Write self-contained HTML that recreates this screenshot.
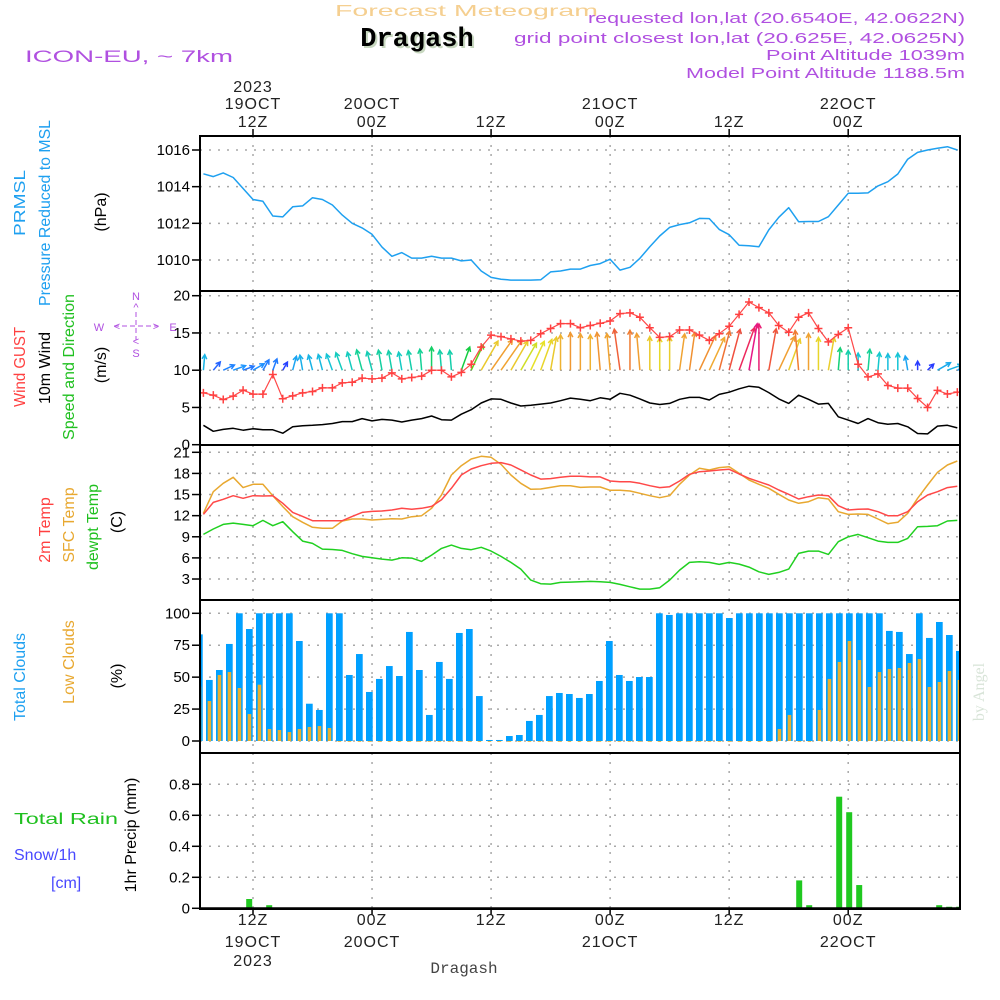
<!DOCTYPE html>
<html><head><meta charset="utf-8">
<style>
html,body{margin:0;padding:0;background:#fff;}
svg{display:block;font-family:"Liberation Sans",sans-serif;}
</style></head>
<body>
<svg id="chart" width="1000" height="1000" viewBox="0 0 1000 1000" xmlns="http://www.w3.org/2000/svg">
<rect x="0" y="0" width="1000" height="1000" fill="#fff"/>
<g id="grid"></g>
<g id="series"></g>
<g id="frames"></g>
<g id="labels">
  <text x="335" y="16" fill="#f5cf90" font-size="16" textLength="263" lengthAdjust="spacingAndGlyphs">Forecast Meteogram</text>
  <text x="419" y="48" text-anchor="middle" fill="#c8d8c0" font-family="Liberation Mono, monospace" font-weight="bold" font-size="27">Dragash</text>
  <text x="417" y="46" text-anchor="middle" fill="#000" font-family="Liberation Mono, monospace" font-weight="bold" font-size="27">Dragash</text>
  <text x="588" y="23" fill="#b050e0" font-size="15" textLength="377" lengthAdjust="spacingAndGlyphs">requested lon,lat (20.6540E, 42.0622N)</text>
  <text x="514" y="43" fill="#b050e0" font-size="15" textLength="451" lengthAdjust="spacingAndGlyphs">grid point closest lon,lat (20.625E, 42.0625N)</text>
  <text x="766" y="60" fill="#b050e0" font-size="15" textLength="199" lengthAdjust="spacingAndGlyphs">Point Altitude 1039m</text>
  <text x="686" y="78" fill="#b050e0" font-size="15" textLength="279" lengthAdjust="spacingAndGlyphs">Model Point Altitude 1188.5m</text>
  <text x="25" y="62" fill="#b050e0" font-size="17" textLength="208" lengthAdjust="spacingAndGlyphs">ICON-EU, ~ 7km</text>

  <text transform="rotate(-90 25 203)" x="25" y="203" text-anchor="middle" fill="#1ea0f0" font-size="16" textLength="66" lengthAdjust="spacingAndGlyphs">PRMSL</text>
  <text transform="rotate(-90 50 213)" x="50" y="213" text-anchor="middle" fill="#1ea0f0" font-size="16" textLength="186" lengthAdjust="spacingAndGlyphs">Pressure Reduced to MSL</text>
  <text transform="rotate(-90 106 212)" x="106" y="212" text-anchor="middle" fill="#000" font-size="16">(hPa)</text>

  <text transform="rotate(-90 25 367)" x="25" y="367" text-anchor="middle" fill="#ff4040" font-size="16" textLength="80" lengthAdjust="spacingAndGlyphs">Wind GUST</text>
  <text transform="rotate(-90 50 368)" x="50" y="368" text-anchor="middle" fill="#000" font-size="16" textLength="72" lengthAdjust="spacingAndGlyphs">10m Wind</text>
  <text transform="rotate(-90 74 367)" x="74" y="367" text-anchor="middle" fill="#20c020" font-size="16" textLength="146" lengthAdjust="spacingAndGlyphs">Speed and Direction</text>
  <text transform="rotate(-90 106 365)" x="106" y="365" text-anchor="middle" fill="#000" font-size="16">(m/s)</text>

  <g fill="#b050e0" font-size="11" text-anchor="middle">
    <text x="136" y="300">N</text>
    <text x="136" y="311">^</text>
    <text x="99" y="331">W</text>
    <text x="173" y="331">E</text>
    <text x="136" y="345">&lt;</text>
    <text x="136" y="357">S</text>
    <line x1="114" y1="326" x2="158" y2="326" stroke="#b050e0" stroke-dasharray="5,3"/>
    <line x1="136" y1="312" x2="136" y2="340" stroke="#b050e0" stroke-dasharray="5,3"/>
    <text x="117" y="330">&lt;</text>
    <text x="156" y="330">&gt;</text>
  </g>

  <text transform="rotate(-90 50 530)" x="50" y="530" text-anchor="middle" fill="#ff4040" font-size="16">2m Temp</text>
  <text transform="rotate(-90 74 525)" x="74" y="525" text-anchor="middle" fill="#e8a830" font-size="16">SFC Temp</text>
  <text transform="rotate(-90 98 527)" x="98" y="527" text-anchor="middle" fill="#20c020" font-size="16">dewpt Temp</text>
  <text transform="rotate(-90 122 522)" x="122" y="522" text-anchor="middle" fill="#000" font-size="16">(C)</text>

  <text transform="rotate(-90 25 677)" x="25" y="677" text-anchor="middle" fill="#1ea0f0" font-size="16">Total Clouds</text>
  <text transform="rotate(-90 74 662)" x="74" y="662" text-anchor="middle" fill="#e8a830" font-size="16">Low Clouds</text>
  <text transform="rotate(-90 122 676)" x="122" y="676" text-anchor="middle" fill="#000" font-size="16">(%)</text>

  <text transform="rotate(-90 136 835)" x="136" y="835" text-anchor="middle" fill="#000" font-size="16">1hr Precip (mm)</text>
  <text x="14" y="824" fill="#20c020" font-size="16" textLength="104" lengthAdjust="spacingAndGlyphs">Total  Rain</text>
  <text x="14" y="860" fill="#4848ff" font-size="16">Snow/1h</text>
  <text x="51" y="888" fill="#4848ff" font-size="16">[cm]</text>

  <text x="464" y="973" text-anchor="middle" fill="#444" font-family="Liberation Mono, monospace" font-size="16">Dragash</text>
  <text transform="rotate(-90 984 692)" x="984" y="692" text-anchor="middle" fill="#d8e4d8" font-family="Liberation Serif, serif" font-size="16">by Angel</text>
</g>
</svg>
<script>
// ---- time axis ----
var topTickLabels = [["2023","19OCT","12Z"],["","20OCT","00Z"],["","","12Z"],["","21OCT","00Z"],["","","12Z"],["","22OCT","00Z"]];
var botTickLabels = [["12Z","19OCT","2023"],["00Z","20OCT",""],["12Z","",""],["00Z","21OCT",""],["12Z","",""],["00Z","22OCT",""]];
var gridHours = [5,17,29,41,53,65];
// ---- series (hourly, from 07Z 19 Oct) ----
var pressure = [1014.7,1014.55,1014.75,1014.5,1013.9,1013.3,1013.2,1012.4,1012.35,1012.9,1012.95,1013.4,1013.3,1013.0,1012.45,1012.0,1011.75,1011.4,1010.7,1010.2,1010.4,1010.1,1010.1,1010.2,1010.1,1010.1,1009.95,1010.0,1009.4,1009.05,1008.95,1008.9,1008.9,1008.9,1008.92,1009.35,1009.4,1009.5,1009.5,1009.7,1009.8,1010.04,1009.45,1009.6,1010.09,1010.72,1011.31,1011.78,1011.93,1012.03,1012.27,1012.26,1011.67,1011.38,1010.8,1010.78,1010.72,1011.64,1012.33,1012.85,1012.09,1012.1,1012.1,1012.36,1013.0,1013.64,1013.64,1013.66,1014.04,1014.27,1014.69,1015.5,1015.87,1016.0,1016.1,1016.18,1016.0];
var wind10m = [2.6,1.8,2.05,2.2,1.95,2.15,2.0,2.0,1.55,2.4,2.55,2.6,2.7,2.85,3.1,3.1,3.5,3.2,3.4,3.3,3.05,3.3,3.5,3.85,3.35,3.3,4.1,4.7,5.6,6.15,6.1,5.6,5.2,5.3,5.45,5.6,5.9,6.25,6.1,5.9,6.3,6.1,6.9,6.65,6.15,5.6,5.4,5.55,6.1,6.35,6.35,6.0,6.75,7.05,7.5,7.85,7.7,7.0,6.15,5.55,6.65,6.1,5.45,5.55,3.75,3.3,2.85,3.5,2.95,2.75,2.85,2.4,1.5,1.45,2.5,2.6,2.25];
var windGust = [6.96,6.65,6.07,6.52,7.32,6.79,6.79,9.42,6.16,6.56,6.96,7.14,7.63,7.63,8.3,8.39,8.93,8.84,8.93,9.64,8.84,9.02,9.2,10.0,10.0,9.1,9.7,10.8,13.1,14.7,14.5,14.2,13.9,14.0,14.9,15.6,16.25,16.25,15.7,16.0,16.3,16.6,17.6,17.7,17.1,15.7,14.4,14.5,15.4,15.4,14.7,14.0,14.9,15.9,17.5,19.15,18.4,17.7,16.0,15.1,17.1,17.7,15.6,13.8,14.8,15.7,10.8,9.1,9.5,7.95,7.6,7.6,6.2,5.0,7.3,6.8,7.05];
var windDir = [5,40,65,70,70,60,30,20,30,15,-10,-15,-15,-20,-20,-15,-15,-15,-10,-10,-10,-10,-5,0,-5,-5,20,25,30,35,35,30,30,25,20,10,0,0,0,0,-5,-5,-8,0,-5,0,0,0,8,8,25,25,15,15,20,10,0,10,25,20,-5,0,0,10,5,0,0,5,5,0,0,-10,0,45,60,70,70];
var temp2m = [12.18,13.89,14.32,14.84,14.46,14.84,14.79,14.84,13.75,12.47,11.9,11.28,11.28,11.28,11.28,11.9,12.47,12.6,12.66,12.8,13.04,12.9,13.04,13.32,14.27,15.88,17.78,18.63,19.1,19.44,19.53,19.2,18.5,17.78,17.2,17.26,17.45,17.6,17.6,17.5,17.5,16.92,16.83,16.83,16.59,16.26,15.98,16.12,16.92,17.87,18.25,18.35,18.49,18.58,17.92,17.3,16.83,16.36,15.64,15.03,14.37,14.7,14.93,14.84,13.42,12.8,12.9,12.94,12.56,12.0,12.0,12.56,13.99,14.93,15.41,15.98,16.17];
var tempSfc = [12.33,15.41,16.59,17.45,15.98,16.45,16.45,14.84,13.28,11.85,11.05,10.34,10.2,10.2,11.24,11.52,11.52,11.38,11.47,11.57,11.52,11.85,12.0,13.04,14.93,17.78,19.1,20.05,20.43,20.29,19.29,17.78,16.59,15.74,15.79,16.02,16.26,16.26,16.02,16.07,16.07,15.6,15.6,15.5,15.17,14.84,14.55,14.84,16.45,17.78,18.73,18.49,18.82,18.96,18.01,17.07,16.45,15.88,15.03,14.22,13.75,13.99,14.55,14.37,12.56,12.18,12.23,12.18,11.52,10.86,11.05,12.33,14.46,16.36,18.16,19.2,19.77];
var dewpt = [9.34,10.1,10.76,10.95,10.76,10.57,11.33,10.57,11.14,9.72,8.39,8.06,7.25,7.2,7.06,6.59,6.21,6.02,5.83,5.69,6.02,5.97,5.5,6.4,7.35,7.82,7.35,7.16,7.5,6.97,6.21,5.36,4.41,2.85,2.33,2.28,2.52,2.56,2.61,2.66,2.61,2.52,2.23,1.9,1.57,1.57,1.76,2.85,4.27,5.36,5.45,5.36,5.08,5.36,5.12,4.7,4.03,3.65,3.94,4.41,6.64,6.97,6.97,6.5,8.3,9.0,9.34,8.87,8.39,8.2,8.2,8.77,10.43,10.48,10.57,11.24,11.33];
var totalClouds = [83.5,47.8,55.6,76,100,87.7,100,100,100,100,78.3,29.2,24.3,100,100,51.7,68.1,38.4,48.6,58.7,50.9,85.4,55.6,20.4,61.9,48.6,84.6,87.7,35.2,0.8,0.8,3.9,4.7,15.7,20.4,35.2,37.6,36.8,33.7,36.8,47,78.3,51.7,47,50.1,50.1,100,98.7,100,100,100,100,100,96.3,100,100,100,100,100,100,100,100,100,100,100,100,100,100,100,86.2,85.4,68.1,100,80.7,93.2,83,70.5];
var lowClouds = [42.6,31.3,51.7,54,41.5,21.1,44.1,9.4,8.6,7,9.4,11,11.7,10.2,0,0,0,0,0,0,0,0,0,0,0,0,0,0,0,0,0,0,0,0,0,0,0,0,0,0,0,0,0,0,0,0,0,0,0,0,0,0,0,0,0,0,0,0,9.4,20.4,0,0,24.3,48.6,61.9,78.3,63.4,42.3,54,56.4,57.2,61.1,64.2,42.3,46.2,54.8,47.8];
var precip = [0,0,0,0,0,0.06,0,0.02,0,0,0,0,0,0,0,0,0,0,0,0,0,0,0,0,0,0,0,0,0,0,0,0,0,0,0,0,0,0,0,0,0,0,0,0,0,0,0,0,0,0,0,0,0,0,0,0,0,0,0,0,0.18,0.02,0,0,0.72,0.62,0.15,0,0,0,0,0,0,0,0.02,0.01,0.01];
// ---- tick values ----
var pTicks = [1010,1012,1014,1016];
var wTicks = [0,5,10,15,20];
var tTicks = [3,6,9,12,15,18,21];
var cTicks = [0,25,50,75,100];
var rTicks = [0,0.2,0.4,0.6,0.8];

var NS = "http://www.w3.org/2000/svg";
var X0 = 200, X1 = 960;
function xT(k){ return 203.4 + 9.92*k; }
function xBarR(k){ return 202.7 + 10*k; }
function yP(v){ return 150 + (1016 - v)*18.33; }
function yW(v){ return 444.7 - v*7.45; }
function yT(v){ return 452.3 + (21 - v)*7.04; }
function yC(v){ return 741 - v*1.277; }
function yR(v){ return 908.3 - v*155; }
var panels = [
  {top:136,bot:291,ticks:pTicks,y:yP,fmt:function(v){return String(v);},name:"pressure"},
  {top:291,bot:445,ticks:wTicks,y:yW,fmt:function(v){return String(v);},name:"wind"},
  {top:445,bot:600,ticks:tTicks,y:yT,fmt:function(v){return String(v);},name:"temperature"},
  {top:600,bot:753,ticks:cTicks,y:yC,fmt:function(v){return String(v);},name:"clouds"},
  {top:753,bot:909,ticks:rTicks,y:yR,fmt:function(v){return v===0?"0":v.toFixed(1);},name:"precip"}
];
function mk(tag, attrs, parent){
  var e = document.createElementNS(NS, tag);
  for (var a in attrs) e.setAttribute(a, attrs[a]);
  parent.appendChild(e);
  return e;
}
var grid = document.getElementById("grid");
var series = document.getElementById("series");
var frames = document.getElementById("frames");

panels.forEach(function(p){
  p.ticks.forEach(function(v){
    var y = p.y(v);
    var gl = mk("line",{x1:X0,x2:X1,y1:y,y2:y,stroke:"#a8a8a8","stroke-width":1.5,"stroke-dasharray":"2,7"},grid);
    
    
    var tk = mk("line",{x1:X0-8,x2:X0,y1:y,y2:y,stroke:"#000","stroke-width":1.5},frames);
    
    
    var tl = mk("text",{x:X0-10,y:y+5,"text-anchor":"end","font-size":15,fill:"#000"},frames);
    
    
    tl.textContent = p.fmt(v);
  });
  gridHours.forEach(function(h){
    var x = xT(h);
    var vl = mk("line",{x1:x,x2:x,y1:p.top,y2:p.bot,stroke:"#a8a8a8","stroke-width":1.5,"stroke-dasharray":"2,7"},grid);
    
    
  });
  var fr = mk("rect",{x:X0,y:p.top,width:X1-X0,height:p.bot-p.top,fill:"none",stroke:"#000","stroke-width":2},frames);
  
  
});

gridHours.forEach(function(h,i){
  var x = xT(h);
  var t1 = mk("line",{x1:x,x2:x,y1:129,y2:136,stroke:"#000","stroke-width":1.5},frames);
  
  
  var t2 = mk("line",{x1:x,x2:x,y1:909,y2:915,stroke:"#000","stroke-width":1.5},frames);
  
  
  var ys = [92,109,127];
  topTickLabels[i].forEach(function(s,j){
    if(!s) return;
    var t = mk("text",{x:x,y:ys[j],"text-anchor":"middle","font-size":16,fill:"#222","letter-spacing":"1"},frames);
    
    
    t.textContent = s;
  });
  var yb = [925,947,966];
  botTickLabels[i].forEach(function(s,j){
    if(!s) return;
    var t = mk("text",{x:x,y:yb[j],"text-anchor":"middle","font-size":16,fill:"#222","letter-spacing":"1"},frames);
    
    
    t.textContent = s;
  });
});

var clip = mk("clipPath",{id:"plotclip"},series);
mk("rect",{x:X0,y:130,width:X1-X0,height:790},clip);
var cg = mk("g",{"clip-path":"url(#plotclip)"},series);



function polyline(vals, yf, color, name, w){
  var pts = vals.map(function(v,k){ return xT(k).toFixed(1)+","+yf(v).toFixed(1); }).join(" ");
  var pl = mk("polyline",{points:pts,fill:"none",stroke:color,"stroke-width":w||1.5,"stroke-linejoin":"round"},cg);
  
  
}

polyline(pressure, yP, "#1ea0f0", "pressure-line");

var stops = [[1.5,[40,60,255]],[2.2,[30,150,255]],[2.9,[20,200,210]],[3.6,[20,210,140]],[4.4,[20,200,20]],[5.3,[230,225,40]],[6.0,[240,170,50]],[6.7,[240,120,50]],[7.3,[240,50,70]],[7.9,[230,20,140]]];
function spdColor(s){
  if (s<=stops[0][0]) return "rgb("+stops[0][1].join(",")+")";
  for (var i=1;i<stops.length;i++){
    if (s<=stops[i][0]){
      var a=stops[i-1], b=stops[i], f=(s-a[0])/(b[0]-a[0]);
      var c=a[1].map(function(v,j){return Math.round(v+(b[1][j]-v)*f);});
      return "rgb("+c.join(",")+")";
    }
  }
  return "rgb("+stops[stops.length-1][1].join(",")+")";
}
wind10m.forEach(function(s,k){
  var ang = windDir[k]*Math.PI/180, L = 6*s;
  var x0 = xT(k), y0 = yW(10);
  var x1 = x0 + L*Math.sin(ang), y1 = y0 - L*Math.cos(ang);
  var col = spdColor(s);
  var g = mk("g",{stroke:col,"stroke-width":1.5,fill:"none"},cg);
  
  
  mk("line",{x1:x0,y1:y0,x2:x1,y2:y1},g);
  var h = 5, a1 = ang + Math.PI - 0.5, a2 = ang + Math.PI + 0.5;
  mk("polyline",{points:(x1+h*Math.sin(a1))+","+(y1-h*Math.cos(a1))+" "+x1+","+y1+" "+(x1+h*Math.sin(a2))+","+(y1-h*Math.cos(a2))},g);
});
polyline(wind10m, yW, "#000", "wind-10m-line");
polyline(windGust, yW, "#ff4848", "wind-gust-line", 1.2);
windGust.forEach(function(v,k){
  var x=xT(k), y=yW(v);
  var m = mk("path",{d:"M"+(x-4)+","+y+"H"+(x+4)+"M"+x+","+(y-4)+"V"+(y+4),stroke:"#ff4040","stroke-width":1.5},cg);
  
  
});

polyline(dewpt, yT, "#20d020", "dewpoint-line");
polyline(tempSfc, yT, "#e8a830", "sfc-temp-line");
polyline(temp2m, yT, "#ff4848", "temp-2m-line");

totalClouds.forEach(function(v,k){
  var r = xBarR(k), y = yC(v);
  var b = mk("rect",{x:r-6.7,y:y,width:6.7,height:yC(0)-y,fill:"#00a0ff"},cg);
  
  
});
lowClouds.forEach(function(v,k){
  var r = xBarR(k), y = yC(v);
  var b = mk("rect",{x:r-5,y:y,width:3.5,height:Math.max(yC(0)-y,0.8),fill:"#e8b030"},cg);
  
  
});
precip.forEach(function(v,k){
  if (v<=0) return;
  var r = xBarR(k), y = yR(v);
  var b = mk("rect",{x:r-6.5,y:y,width:6,height:yR(0)-y,fill:"#20c820"},cg);
  
  
});
var zl = mk("line",{x1:X0,x2:X1,y1:yR(0),y2:yR(0),stroke:"#000","stroke-width":2},frames);


</script>
</body></html>
